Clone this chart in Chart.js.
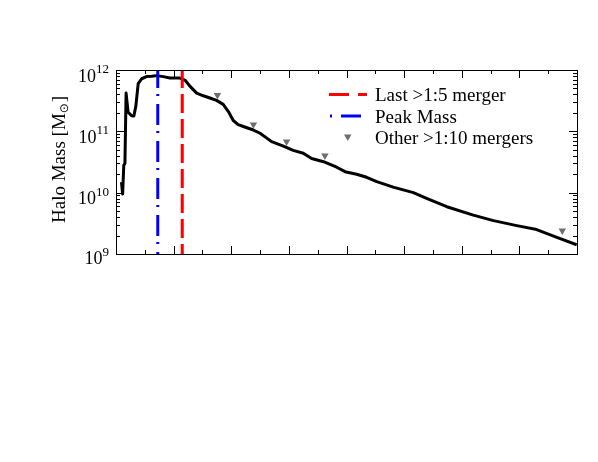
<!DOCTYPE html>
<html>
<head>
<meta charset="utf-8">
<script src="https://cdn.jsdelivr.net/npm/chart.js@4/dist/chart.umd.min.js"></script>
<style>
  html, body { margin: 0; padding: 0; background: #ffffff; }
  #massChart { display: block; }
</style>
</head>
<body>
<canvas id="massChart" width="598" height="462"></canvas>
<script>
// halo mass history (x in axis units, mass in solar masses)
const haloX = [0.19, 0.23, 0.27, 0.31, 0.35, 0.42, 0.54, 0.62, 0.69, 0.77, 0.89, 1.06, 1.24, 1.41, 1.64, 1.87, 2.22, 2.40, 2.57, 2.80, 3.03, 3.26, 3.49, 3.72, 3.90, 4.07, 4.24, 4.42, 4.77, 5.00, 5.40, 5.81, 6.15, 6.50, 6.79, 7.20, 7.66, 7.95, 8.35, 8.70, 9.05, 9.62, 10.32, 10.78, 11.48, 12.40, 13.10, 13.91, 14.60, 15.30, 15.99];
const haloMass = [1.48e10, 9.5e9, 2.8e10, 3.0e10, 4.2e11, 2.05e11, 1.8e11, 1.78e11, 2.6e11, 6.0e11, 7.2e11, 7.8e11, 7.9e11, 8.1e11, 7.8e11, 7.4e11, 7.4e11, 6.8e11, 5.4e11, 4.2e11, 3.8e11, 3.5e11, 3.2e11, 2.75e11, 2.1e11, 1.5e11, 1.29e11, 1.2e11, 1.05e11, 9.3e10, 6.8e10, 5.75e10, 4.9e10, 4.4e10, 3.6e10, 3.2e10, 2.6e10, 2.2e10, 2.0e10, 1.78e10, 1.51e10, 1.23e10, 1.0e10, 8.1e9, 5.9e9, 4.3e9, 3.5e9, 2.9e9, 2.5e9, 1.86e9, 1.41e9];

// other >1:10 mergers
const mergerX = [3.52, 4.77, 5.92, 7.25, 15.49];
const mergerMass = [3.9e11, 1.29e11, 6.8e10, 4.0e10, 2.4e9];

// vertical markers
const peakMassX = 1.45;
const lastMergerX = 2.30;

// axes
const xMin = 0, xMax = 16;
const xMajorTicks = [0, 2, 4, 6, 8, 10, 12, 14, 16];
const xMinorTicks = [1, 3, 5, 7, 9, 11, 13, 15];
const yMin = 1e9, yMax = 1e12;
const yTickValues = [1e9, 1e10, 1e11, 1e12];
const yTickExponents = ['9', '10', '11', '12'];

const legendLabels = ['Last >1:5 merger', 'Peak Mass', 'Other >1:10 mergers'];
const yTitle = 'Halo Mass [M';
const yTitleSub = '\u2299';

const SERIF = '"Liberation Serif", "DejaVu Serif", serif';

const frame = {
    id: 'frame',
    afterDraw(chart) {
        const ctx = chart.ctx;
        const a = chart.chartArea;
        const xs = chart.scales.x;
        const ys = chart.scales.y;
        ctx.save();
        ctx.strokeStyle = '#000000';
        ctx.lineWidth = 1;

        // border
        ctx.strokeRect(a.left + 0.5, a.top + 0.5, a.right - a.left, a.bottom - a.top);

        // inward tick marks on all four sides
        const tick = (x1, y1, x2, y2) => {
            ctx.beginPath();
            ctx.moveTo(x1, y1);
            ctx.lineTo(x2, y2);
            ctx.stroke();
        };
        xMajorTicks.forEach(v => {
            const px = Math.round(xs.getPixelForValue(v)) + 0.5;
            tick(px, a.bottom, px, a.bottom - 8);
            tick(px, a.top, px, a.top + 8);
        });
        xMinorTicks.forEach(v => {
            const px = Math.round(xs.getPixelForValue(v)) + 0.5;
            tick(px, a.bottom, px, a.bottom - 4);
            tick(px, a.top, px, a.top + 4);
        });
        yTickValues.forEach((v, i) => {
            const py = Math.round(ys.getPixelForValue(v)) + 0.5;
            tick(a.left, py, a.left + 8, py);
            tick(a.right, py, a.right - 8, py);
            if (i < yTickValues.length - 1) {
                for (let m = 2; m <= 9; m++) {
                    const pm = Math.round(ys.getPixelForValue(v * m)) + 0.5;
                    tick(a.left, pm, a.left + 4, pm);
                    tick(a.right, pm, a.right - 4, pm);
                }
            }
        });

        // y tick labels 10^n
        ctx.fillStyle = '#000000';
        ctx.textBaseline = 'alphabetic';
        yTickValues.forEach((v, i) => {
            const py = ys.getPixelForValue(v);
            const base = i === 0 ? py + 10 : py + 11.5;
            ctx.font = '13px ' + SERIF;
            const ew = ctx.measureText(yTickExponents[i]).width;
            ctx.textAlign = 'left';
            ctx.fillText(yTickExponents[i], 109 - ew, base - 8.5);
            ctx.font = '18px ' + SERIF;
            ctx.textAlign = 'right';
            ctx.fillText('10', 109 - ew, base);
        });

        // y title, rotated
        ctx.save();
        ctx.translate(65, 223);
        ctx.rotate(-Math.PI / 2);
        ctx.textAlign = 'left';
        ctx.font = '19px ' + SERIF;
        ctx.fillText(yTitle, 0, 0);
        let w = ctx.measureText(yTitle).width;
        ctx.font = '12px "DejaVu Sans", sans-serif';
        ctx.fillText(yTitleSub, w, 3);
        w += ctx.measureText(yTitleSub).width;
        ctx.font = '19px ' + SERIF;
        ctx.fillText(']', w + 1, 0);
        ctx.restore();

        // legend
        const rows = [94.5, 116, 137.5];
        ctx.lineWidth = 3;
        ctx.strokeStyle = '#ff0000';
        ctx.setLineDash([20, 9]);
        tick(329, rows[0], 367, rows[0]);
        ctx.strokeStyle = '#0000ff';
        ctx.setLineDash([2, 9, 20, 9]);
        tick(330, rows[1], 367, rows[1]);
        ctx.setLineDash([]);
        ctx.fillStyle = '#6e6e6e';
        ctx.beginPath();
        ctx.moveTo(344, 134.5);
        ctx.lineTo(351.5, 134.5);
        ctx.lineTo(347.75, 141);
        ctx.closePath();
        ctx.fill();
        ctx.fillStyle = '#000000';
        ctx.font = '19px ' + SERIF;
        ctx.textAlign = 'left';
        legendLabels.forEach((t, i) => ctx.fillText(t, 375, rows[i] + 6.5));
        ctx.restore();
    }
};

new Chart(document.getElementById('massChart').getContext('2d'), {
    type: 'line',
    data: {
        datasets: [{
            label: legendLabels[1],
            data: [{x: peakMassX, y: yMax}, {x: peakMassX, y: yMin}],
            borderColor: '#0000ff',
            borderWidth: 3,
            borderDash: [21, 6, 2, 8],
            borderDashOffset: 3,
            pointRadius: 0,
            order: 0
        }, {
            label: legendLabels[0],
            data: [{x: lastMergerX, y: yMax}, {x: lastMergerX, y: yMin}],
            borderColor: '#ff0000',
            borderWidth: 3,
            borderDash: [19, 6],
            borderDashOffset: 1,
            pointRadius: 0,
            order: 1
        }, {
            label: 'Halo mass',
            data: haloX.map((x, i) => ({x: x, y: haloMass[i]})),
            borderColor: '#000000',
            borderWidth: 3,
            borderJoinStyle: 'round',
            tension: 0,
            pointRadius: 0,
            order: 2
        }, {
            label: legendLabels[2],
            data: mergerX.map((x, i) => ({x: x, y: mergerMass[i]})),
            showLine: false,
            pointStyle: 'triangle',
            rotation: 180,
            pointRadius: 4.3,
            pointBackgroundColor: '#6e6e6e',
            pointBorderWidth: 0,
            order: 3
        }]
    },
    options: {
        responsive: false,
        animation: false,
        devicePixelRatio: 1,
        layout: { padding: { left: 116, right: 21, top: 70, bottom: 208 } },
        scales: {
            x: { type: 'linear', min: xMin, max: xMax, display: false },
            y: { type: 'logarithmic', min: yMin, max: yMax, display: false }
        },
        plugins: {
            legend: { display: false },
            tooltip: { enabled: false }
        }
    },
    plugins: [frame]
});
</script>
</body>
</html>
